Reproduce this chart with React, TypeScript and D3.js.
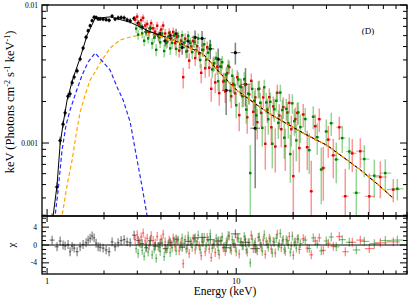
import React from 'react';
import * as d3 from 'd3';

const W = 409, H = 299;
const L = 42, R = 407, T = 5, MID = 216, B = 274;

// Total model (black) – energy (keV) and keV*flux
const modelE = [1.05, 1.076, 1.129, 1.172, 1.215, 1.276, 1.373, 1.495, 1.628, 1.795, 2.154, 2.75, 3.508, 4.476, 5.055, 6.69, 7.4, 8.23, 10.12, 12.92, 15.13, 22.62, 30.3, 45.3, 55.7, 67.5];
const modelV = [0.000227, 0.000296, 0.000496, 0.00098, 0.00137, 0.00205, 0.00296, 0.00413, 0.00606, 0.0080, 0.0082, 0.0075, 0.0064, 0.0057, 0.0053, 0.0044, 0.0038, 0.0032, 0.0024, 0.00188, 0.00162, 0.00118, 0.00096, 0.00064, 0.000505, 0.0004];

// Blue dashed component
const blueE = [1.08, 1.102, 1.144, 1.2, 1.26, 1.323, 1.423, 1.532, 1.648, 1.795, 1.978, 2.154, 2.346, 2.524, 2.75, 2.958, 3.181, 3.381, 3.45];
const blueV = [0.0002, 0.000296, 0.000456, 0.00089, 0.00135, 0.001734, 0.00234, 0.00311, 0.00386, 0.00449, 0.00386, 0.00338, 0.00254, 0.00205, 0.00142, 0.00082, 0.00048, 0.000296, 0.00025];

// Orange dashed component
const orangeE = [1.18, 1.2, 1.276, 1.356, 1.423, 1.495, 1.589, 1.689, 1.795, 1.907, 2.154, 2.433, 2.75, 3.105, 3.727, 4.476, 5.055, 6.69, 7.4, 8.23, 10.12, 12.92, 15.13, 22.62, 30.3, 45.3, 55.7, 67.5];
const orangeV = [0.00022, 0.000296, 0.000496, 0.000753, 0.001143, 0.001677, 0.002227, 0.00286, 0.00327, 0.0038, 0.00488, 0.00558, 0.00586, 0.00606, 0.00606, 0.0057, 0.0053, 0.0044, 0.0038, 0.0032, 0.0024, 0.00188, 0.00162, 0.00118, 0.00096, 0.00064, 0.000505, 0.0004];

// Black data set
const blackE = [1.063, 1.129, 1.172, 1.215, 1.245, 1.291, 1.323, 1.356, 1.39, 1.441, 1.495, 1.55, 1.608, 1.648, 1.689, 1.73, 1.773, 1.816, 1.862, 1.907, 1.978, 2.052, 2.128, 2.207, 2.289, 2.375, 2.463, 2.555, 2.65, 2.75, 2.886, 3.03, 3.18, 3.34, 3.508, 3.727, 3.96, 4.21, 4.476, 4.81, 5.18, 5.57, 6.06, 6.6, 7.29, 8.03, 8.85, 9.9, 11.2, 12.6];
const blackChi = [1.1, -0.4, 0.9, 0.0, -0.2, 0.1, -1.5, -0.3, -0.7, -1.5, -0.4, 0.1, 0.5, 1.1, 1.5, 2.0, 1.6, 0.4, -0.4, -0.5, -0.7, -1.1, -1.5, 0.7, -0.4, 0.5, 1.0, 1.2, 0.7, 0.5, 2.2, 1.0, 0.3, -0.6, 1.0, -0.3, 0.4, -0.8, 0.6, 1.3, -0.5, 0.8, 1.6, 1.7, 1.2, 0.9, -0.6, 2.5, 0.6, -0.8];
const blackErr = [0.09, 0.08, 0.07, 0.06, 0.06, 0.055, 0.05, 0.05, 0.045, 0.045, 0.04, 0.04, 0.04, 0.035, 0.035, 0.035, 0.035, 0.035, 0.035, 0.035, 0.035, 0.035, 0.035, 0.035, 0.035, 0.04, 0.04, 0.04, 0.04, 0.045, 0.045, 0.05, 0.05, 0.055, 0.06, 0.065, 0.07, 0.08, 0.09, 0.1, 0.11, 0.13, 0.15, 0.17, 0.2, 0.24, 0.28, 0.33, 0.38, 0.42];

// Red data set
const redE = [2.922, 2.994, 3.068, 3.144, 3.221, 3.301, 3.382, 3.466, 3.551, 3.639, 3.729, 3.821, 3.915, 4.011, 4.110, 4.212, 4.316, 4.422, 4.531, 4.643,
  4.757, 4.875, 4.995, 5.118, 5.245, 5.374, 5.507, 5.642, 5.782, 5.924, 6.070, 6.220, 6.373, 6.531, 6.692, 6.857, 7.026, 7.200, 7.377, 7.559,
  7.746, 7.937, 8.133, 8.333, 8.539, 8.750, 8.966, 9.187, 9.414, 9.646, 9.884, 10.128, 10.378, 10.634, 10.896, 11.165, 11.441, 11.723, 12.012, 12.309,
  12.613, 12.924, 13.243, 13.570, 13.905, 14.248, 14.600, 14.960, 15.329, 15.707, 16.095, 16.492, 16.899, 17.316, 17.744, 18.182, 18.630, 19.090, 19.561, 20.044, 20.539, 21.046, 21.565,
  22.62, 23.75, 24.94, 26.18, 27.50, 28.87, 30.68, 32.61, 35.08, 37.73, 41.10, 45.31, 50.55, 57.80, 67.7];
const redChi = [1.2, 2.3, 0.6, 1.8, 2.7, 0.9, 1.5, -0.2, 2.1, 1.0, 0.4, 1.9, -0.5, 1.3, 2.4, 0.7, -0.8, 1.1, 0.2, 1.6,
  -0.4, 0.9, -1.3, 0.5, -4.2, 1.2, -0.7, -1.9, 0.3, 1.4, -1.1, 0.8, -0.2, -2.4, 0.6, -1.5, 1.7, -0.9, -2.8, 0.1,
  -1.7, 0.4, -2.2, 1.0, -0.6, -1.4, 0.9, 2.0, -1.2, 0.3, -0.5, 1.6, -2.0, 0.7, -0.1, 1.3, -1.6, 0.5, 2.2, -0.8,
  0.6, -1.3, 1.8, -0.4, 1.1, -2.1, 0.2, 1.5, -0.9, 0.8, -1.8, 2.4, 0.3, -0.6, 1.2, -1.4, 0.9, 1.9, -0.2, -2.3, 0.7, 1.3, -1.0,
  1.4, -0.7, -2.2, 0.9, 1.6, -1.2, 0.4, -0.3, 1.9, -1.5, 0.6, 1.1, -0.8, 0.5, 0.7];

// Green data set
const greenE = [2.958, 3.031, 3.106, 3.183, 3.261, 3.342, 3.424, 3.509, 3.595, 3.684, 3.775, 3.868, 3.963, 4.060, 4.160, 4.264, 4.369, 4.476, 4.587, 4.700,
  4.815, 4.935, 5.056, 5.181, 5.309, 5.440, 5.575, 5.711, 5.853, 5.997, 6.144, 6.296, 6.451, 6.611, 6.774, 6.941, 7.112, 7.288, 7.468, 7.652,
  7.841, 8.034, 8.233, 8.435, 8.644, 8.857, 9.076, 9.300, 9.530, 9.764, 10.005, 10.252, 10.505, 10.764, 11.030, 11.302, 11.581, 11.867, 12.159, 12.460,
  12.768, 13.083, 13.405, 13.737, 14.076, 14.423, 14.779, 15.144, 15.517, 15.900, 16.292, 16.694, 17.106, 17.528, 17.962, 18.405, 18.859, 19.324, 19.801, 20.290, 20.791, 21.304, 21.830,
  23.18, 24.33, 25.55, 26.83, 28.17, 29.94, 31.81, 33.81, 36.38, 39.62, 43.15, 47.56, 53.73, 61.42, 71.12];
const greenChi = [-0.8, -1.9, 0.3, -1.2, -2.5, -0.4, -1.6, 0.7, -2.2, -0.9, -3.0, -0.3, -1.4, 0.5, -2.6, -1.1, 0.2, -1.7, -0.6, 0.9,
  -1.3, 1.1, -0.2, 1.6, 0.4, -0.9, 2.0, 0.8, -0.5, 1.3, 0.1, 2.2, -1.0, 0.6, 1.7, -0.3, 1.0, 2.5, -0.7, 0.4,
  1.5, -1.2, 0.9, 1.8, -0.4, 0.6, 2.1, -0.8, 1.2, 0.3, -1.5, 1.4, 0.7, -0.2, 1.9, -1.1, 0.5, -4.0, 1.3, 0.2,
  -0.9, 1.7, 0.4, -1.4, 2.3, 0.8, -0.5, 1.1, -1.8, 0.6, 1.5, -0.3, 2.6, 0.9, -1.0, 1.2, 0.1, -1.6, 2.0, 0.5, -0.7, 1.4, 0.3,
  1.1, -0.8, 1.6, 0.2, -1.3, 0.9, 1.8, -0.4, 1.2, 0.6, -1.1, 0.8, 0.3, 1.0, 1.1];

// Fractional errors shared by the red and green sets (same bin index)
const hardErr = [0.07, 0.07, 0.07, 0.072, 0.072, 0.074, 0.074, 0.076, 0.076, 0.078, 0.078, 0.08, 0.08, 0.082, 0.082, 0.084, 0.086, 0.088, 0.09, 0.09,
  0.092, 0.094, 0.096, 0.098, 0.1, 0.1, 0.102, 0.104, 0.106, 0.108, 0.11, 0.112, 0.114, 0.116, 0.118, 0.12, 0.122, 0.124, 0.126, 0.128,
  0.13, 0.132, 0.134, 0.136, 0.138, 0.14, 0.142, 0.145, 0.148, 0.15, 0.153, 0.156, 0.16, 0.163, 0.166, 0.17, 0.173, 0.176, 0.18, 0.183,
  0.186, 0.19, 0.193, 0.196, 0.2, 0.202, 0.205, 0.208, 0.21, 0.213, 0.216, 0.22, 0.222, 0.225, 0.228, 0.23, 0.233, 0.236, 0.24, 0.242, 0.245, 0.248, 0.25,
  0.26, 0.26, 0.27, 0.27, 0.28, 0.28, 0.29, 0.29, 0.3, 0.31, 0.32, 0.33, 0.34, 0.35, 0.22];

// Axis ticks
const xMajor = [1, 10];
const xMinor = [2, 3, 4, 5, 6, 7, 8, 9, 20, 30, 40, 50, 60, 70, 80];
const yMajor = [0.001, 0.01];
const yMinor = [0.0003, 0.0004, 0.0005, 0.0006, 0.0007, 0.0008, 0.0009, 0.002, 0.003, 0.004, 0.005, 0.006, 0.007, 0.008, 0.009];
const rMajor = [-4, 0, 4];
const rMinor = [-6, -5, -3, -2, -1, 1, 2, 3, 5, 6];

const xS = d3.scaleLog().domain([0.94, 80]).range([L, R]);
const yS = d3.scaleLog().domain([0.000296, 0.01]).range([MID, T]);
const rS = d3.scaleLinear().domain([-6.5, 6.5]).range([B, MID]);

const logModel = d3.scaleLinear().domain(modelE.map(Math.log10)).range(modelV.map(Math.log10));
const modelAt = (e: number) => Math.pow(10, logModel(Math.log10(e)));

const FONT = '"Liberation Serif", "Times New Roman", serif';

type Pt = { e: number; lo: number; hi: number; v: number; chi: number; sig: number };

function buildSeries(E: number[], chi: number[], err: number[]): Pt[] {
  return E.map((e, i) => {
    const lo = i > 0 ? Math.sqrt(E[i - 1] * e) : e / Math.sqrt(E[i + 1] / e);
    const hi = i < E.length - 1 ? Math.sqrt(E[i + 1] * e) : e * Math.sqrt(e / E[i - 1]);
    const m = modelAt(e);
    const sig = err[i] * m;
    return { e, lo, hi, v: m + chi[i] * sig, chi: chi[i], sig };
  });
}

const blackPts = buildSeries(blackE, blackChi, blackErr);
const redPts = buildSeries(redE, redChi, hardErr);
const greenPts = buildSeries(greenE, greenChi, hardErr);

const lineGen = (E: number[], V: number[]) =>
  d3.line<number>().x((_, i) => xS(E[i])).y((_, i) => yS(V[i]))(E) || '';

function DataSeries({ pts, bar, mark, barOp, kind }: { pts: Pt[]; bar: string; mark: string; barOp: number; kind: 'c' | 's' }) {
  return (
    <g>
      {pts.map((p, i) => {
        const x = xS(p.e);
        const y = yS(Math.max(p.v, 1e-6));
        const yTop = yS(p.v + p.sig);
        const yBot = yS(Math.max(p.v - p.sig, 1e-6));
        return (
          <g key={i}>
            <line x1={x} x2={x} y1={yTop} y2={yBot} stroke={bar} strokeOpacity={barOp} strokeWidth={1.5} />
            <line x1={xS(p.lo)} x2={xS(p.hi)} y1={y} y2={y} stroke={bar} strokeOpacity={barOp} strokeWidth={1.2} />
            {kind === 'c' ? (
              <circle cx={x} cy={y} r={1.6} fill={mark} />
            ) : (
              <rect x={x - 1.2} y={y - 1.2} width={2.4} height={2.4} fill={mark} />
            )}
          </g>
        );
      })}
    </g>
  );
}

function Resid({ pts, col, op }: { pts: Pt[]; col: string; op: number }) {
  return (
    <g>
      {pts.map((p, i) => {
        const x = xS(p.e);
        const y = rS(p.chi);
        return (
          <g key={i} stroke={col} strokeOpacity={op} strokeWidth={1.2}>
            <line x1={x} x2={x} y1={rS(p.chi + 1)} y2={rS(p.chi - 1)} />
            <line x1={xS(p.lo)} x2={xS(p.hi)} y1={y} y2={y} />
          </g>
        );
      })}
    </g>
  );
}

export default function App() {
  const tickLines: React.ReactNode[] = [];
  xMajor.concat(xMinor).forEach((t, i) => {
    const len = xMajor.includes(t) ? 7 : 4;
    const x = xS(t);
    tickLines.push(<line key={'xt' + i} x1={x} x2={x} y1={T} y2={T + len} />);
    tickLines.push(<line key={'xb' + i} x1={x} x2={x} y1={MID} y2={MID - len} />);
    const len2 = xMajor.includes(t) ? 6 : 3.5;
    tickLines.push(<line key={'rxt' + i} x1={x} x2={x} y1={MID} y2={MID + len2} />);
    tickLines.push(<line key={'rxb' + i} x1={x} x2={x} y1={B} y2={B - len2} />);
  });
  yMajor.concat(yMinor).forEach((t, i) => {
    const len = yMajor.includes(t) ? 7 : 4;
    const y = yS(t);
    tickLines.push(<line key={'yl' + i} x1={L} x2={L + len} y1={y} y2={y} />);
    tickLines.push(<line key={'yr' + i} x1={R} x2={R - len} y1={y} y2={y} />);
  });
  rMajor.concat(rMinor).forEach((t, i) => {
    const len = rMajor.includes(t) ? 7 : 4;
    const y = rS(t);
    tickLines.push(<line key={'rl' + i} x1={L} x2={L + len} y1={y} y2={y} />);
    tickLines.push(<line key={'rr' + i} x1={R} x2={R - len} y1={y} y2={y} />);
  });

  const redModelE = modelE.filter((e) => e >= 2.9);
  const redModelV = modelV.filter((_, i) => modelE[i] >= 2.9);

  return (
    <svg width={W} height={H} style={{ position: 'absolute', left: 0, top: 0, background: '#fff' }} fontFamily={FONT}>
      <defs>
        <clipPath id="topClip"><rect x={L} y={T} width={R - L} height={MID - T} /></clipPath>
        <clipPath id="resClip"><rect x={L} y={MID} width={R - L} height={B - MID} /></clipPath>
      </defs>
      <g clipPath="url(#topClip)">
        <DataSeries pts={blackPts} bar="#000" mark="#000" barOp={0.5} kind="c" />
        <DataSeries pts={redPts} bar="#ff0000" mark="#e00000" barOp={0.42} kind="s" />
        <DataSeries pts={greenPts} bar="#00a000" mark="#008000" barOp={0.42} kind="s" />
        <path d={lineGen(redModelE, redModelV)} fill="none" stroke="#cc0000" strokeWidth={1} />
        <path d={lineGen(modelE, modelV)} fill="none" stroke="#000" strokeWidth={1} />
        <path d={lineGen(orangeE, orangeV)} fill="none" stroke="#ffa500" strokeWidth={1.2} strokeDasharray="4,2.5" />
        <path d={lineGen(blueE, blueV)} fill="none" stroke="#2a2aff" strokeWidth={1.2} strokeDasharray="4,2.5" />
      </g>
      <g clipPath="url(#resClip)">
        <Resid pts={blackPts} col="#000" op={0.5} />
        <Resid pts={redPts} col="#ff0000" op={0.5} />
        <Resid pts={greenPts} col="#008000" op={0.5} />
        <line x1={L} x2={R} y1={rS(0)} y2={rS(0)} stroke="#000" strokeWidth={1} />
      </g>
      <g stroke="#000" strokeWidth={1}>{tickLines}</g>
      <rect x={L} y={T} width={R - L} height={MID - T} fill="none" stroke="#000" strokeWidth={1.3} />
      <rect x={L} y={MID} width={R - L} height={B - MID} fill="none" stroke="#000" strokeWidth={1.3} />

      <g fontSize={7.5} fill="#000">
        <text x={38} y={yS(0.01) + 2.5} textAnchor="end">0.01</text>
        <text x={38} y={yS(0.001) + 2.5} textAnchor="end">0.001</text>
        {rMajor.map((t) => (
          <text key={t} x={37} y={rS(t) + 2.5} textAnchor="end">{t}</text>
        ))}
      </g>
      <g fontSize={8.5} fill="#000">
        {xMajor.map((t) => (
          <text key={t} x={xS(t)} y={284} textAnchor="middle">{t}</text>
        ))}
      </g>
      <text x={225} y={295} textAnchor="middle" fontSize={11.5}>Energy (keV)</text>
      <text transform="translate(14,102) rotate(-90)" textAnchor="middle" fontSize={12.5}>
        keV (Photons cm<tspan fontSize={8} dy={-4.5}>-2</tspan>
        <tspan dy={4.5}> s</tspan><tspan fontSize={8} dy={-4.5}>-1</tspan>
        <tspan dy={4.5}> keV</tspan><tspan fontSize={8} dy={-4.5}>-1</tspan>
        <tspan dy={4.5}>)</tspan>
      </text>
      <text transform="translate(15,245) rotate(-90)" textAnchor="middle" fontSize={11}>χ</text>
      <text x={368} y={34} textAnchor="middle" fontSize={9}>(D)</text>
    </svg>
  );
}
